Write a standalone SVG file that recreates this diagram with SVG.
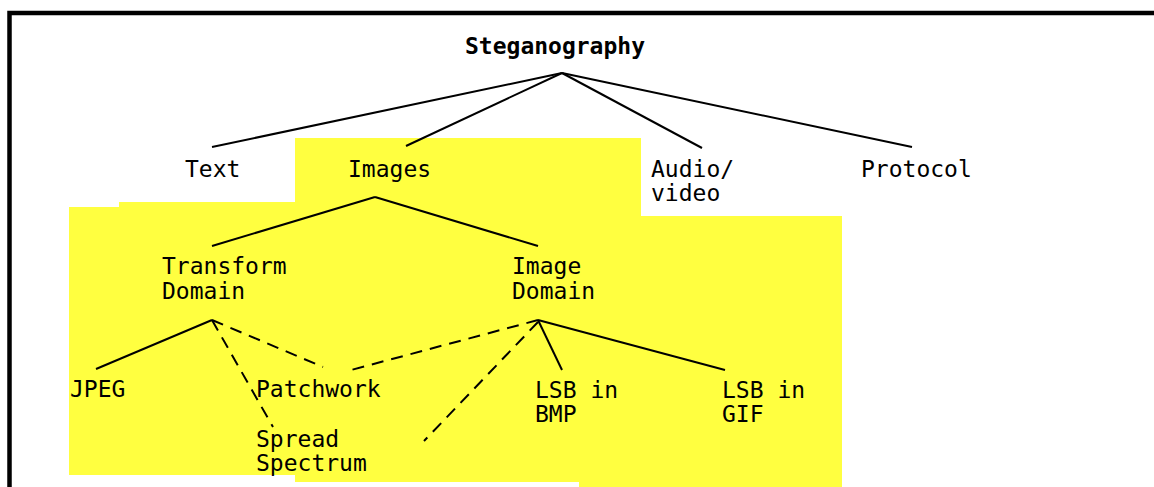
<svg xmlns="http://www.w3.org/2000/svg" width="1154" height="487" viewBox="0 0 1154 487">
  <style>
    .lbl { font-family: "DejaVu Sans Mono", "Liberation Mono", monospace; font-size: 23px; fill: #000; }
    .root { font-weight: bold; }
    .edge { stroke: #000; stroke-width: 2; fill: none; stroke-linecap: butt; }
    .dash { stroke-dasharray: 12 8; }
  </style>
  <rect x="0" y="0" width="1154" height="487" fill="#fff"/>

  <!-- highlighted image branch -->
  <path d="M295 138 H641 V216 H842 V487 H579 V482 H295 V475 H69 V207 H119 V202 H295 Z" fill="#ffff40"/>

  <!-- frame -->
  <path d="M9.5 487 V13 H1154" fill="none" stroke="#000" stroke-width="4.5"/>

  <g id="connectors">
    <line class="edge" x1="562" y1="73" x2="212" y2="147"/>
    <line class="edge" x1="562" y1="73" x2="406" y2="146"/>
    <line class="edge" x1="562" y1="73" x2="702" y2="148"/>
    <line class="edge" x1="562" y1="73" x2="912" y2="147"/>

    <line class="edge" x1="375" y1="197" x2="212" y2="246"/>
    <line class="edge" x1="375" y1="197" x2="538" y2="246"/>

    <line class="edge" x1="212" y1="320" x2="96" y2="369"/>
    <line class="edge dash" x1="212" y1="320" x2="323" y2="367"/>
    <line class="edge dash" x1="212" y1="320" x2="273" y2="427"/>

    <line class="edge" x1="538" y1="320" x2="562" y2="370"/>
    <line class="edge" x1="538" y1="320" x2="725" y2="370"/>
    <line class="edge dash" x1="538" y1="320" x2="351" y2="370"/>
    <line class="edge dash" x1="538" y1="322" x2="424" y2="441"/>
  </g>

  <g id="steganography"><text class="lbl root" x="465" y="54">Steganography</text></g>
  <g id="text"><text class="lbl" x="185" y="177">Text</text></g>
  <g id="images"><text class="lbl" x="348" y="177">Images</text></g>
  <g id="audio-video"><text class="lbl" x="651" y="177">Audio/</text><text class="lbl" x="651" y="200.5">video</text></g>
  <g id="protocol"><text class="lbl" x="861" y="177">Protocol</text></g>
  <g id="transform-domain"><text class="lbl" x="162" y="274">Transform</text><text class="lbl" x="162" y="299">Domain</text></g>
  <g id="image-domain"><text class="lbl" x="512" y="274">Image</text><text class="lbl" x="512" y="299">Domain</text></g>
  <g id="jpeg"><text class="lbl" x="70" y="397">JPEG</text></g>
  <g id="patchwork"><text class="lbl" x="256" y="397">Patchwork</text></g>
  <g id="spread-spectrum"><text class="lbl" x="256" y="447">Spread</text><text class="lbl" x="256" y="471">Spectrum</text></g>
  <g id="lsb-bmp"><text class="lbl" x="535" y="398">LSB in</text><text class="lbl" x="535" y="422">BMP</text></g>
  <g id="lsb-gif"><text class="lbl" x="722" y="398">LSB in</text><text class="lbl" x="722" y="422">GIF</text></g>
</svg>
